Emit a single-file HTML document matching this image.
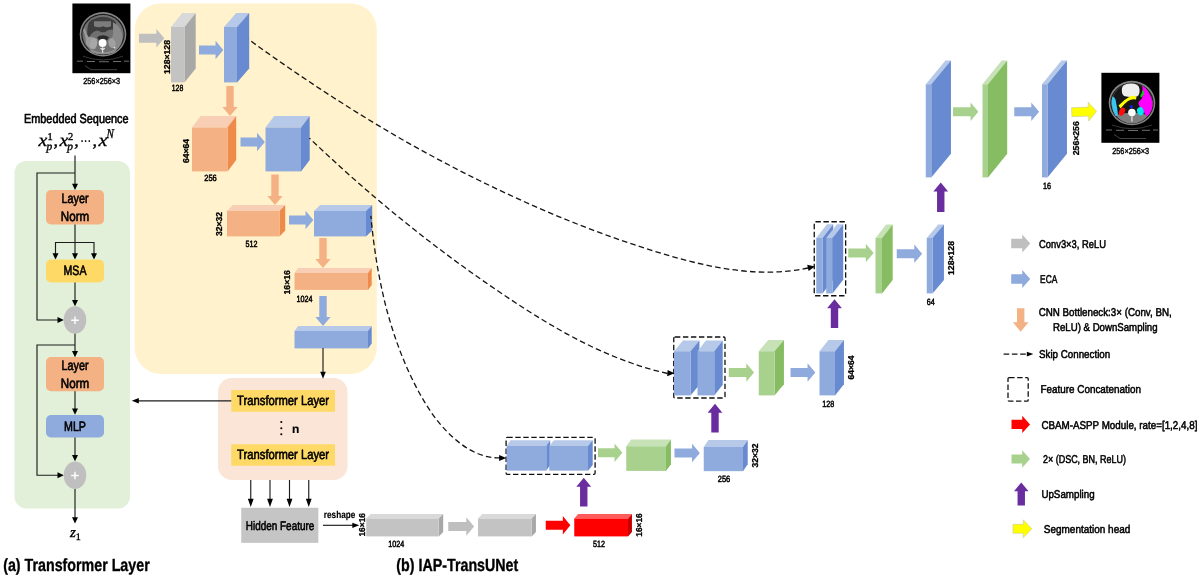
<!DOCTYPE html>
<html lang="en">
<head>
<meta charset="utf-8">
<title>IAP-TransUNet architecture</title>
<style>
html,body{margin:0;padding:0;background:#fff;}
body{width:1200px;height:578px;overflow:hidden;}
svg{display:block;will-change:transform;}
text{text-rendering:geometricPrecision;}
.s{font-family:"Liberation Sans",sans-serif;stroke:#000;stroke-linejoin:round;}
.m{font-family:"Liberation Serif",serif;font-style:italic;stroke:#000;stroke-width:0.35px;}
.mr{font-family:"Liberation Serif",serif;stroke:#000;stroke-width:0.35px;}
</style>
</head>
<body>
<svg width="1200" height="578" viewBox="0 0 1200 578">
<rect width="1200" height="578" fill="#fff"/>
<rect x="134.7" y="3.4" width="242.1" height="370.5" rx="26" ry="26" fill="#FFF2CC"/>
<rect x="14.5" y="161" width="115.5" height="347.5" rx="12" ry="12" fill="#E2F0D9"/>
<rect x="218" y="378" width="129.5" height="102" rx="14" ry="14" fill="#FBE5D6"/>
<defs><filter id="bl" x="-10%" y="-10%" width="120%" height="120%"><feGaussianBlur stdDeviation="0.55"/></filter><clipPath id="c1"><rect x="72.4" y="3.5" width="58" height="69.7"/></clipPath><clipPath id="c2"><rect x="1101.4" y="72.8" width="58" height="70"/></clipPath></defs>
<g>
<rect x="72.4" y="3.5" width="58" height="69.7" fill="#000"/>
<g clip-path="url(#c1)"><g filter="url(#bl)" transform="translate(103,34.2)">
<ellipse cx="0" cy="0" rx="23.3" ry="22.2" fill="#858585"/>
<ellipse cx="0" cy="0.2" rx="21.8" ry="20.6" fill="#1c1c1c"/>
<ellipse cx="0" cy="0.4" rx="20.6" ry="19.6" fill="#6f6f6f"/>
<path d="M-26,27 H-20 M-16,27.3 H-8 M-4,27.5 H6 M10,27.3 H18 M21,27 H26" stroke="#6e6e6e" stroke-width="1" fill="none"/>
<path d="M-18,31.5 L-12,35.5 H14" stroke="#4a4a4a" stroke-width="0.9" fill="none"/>
<path d="M-20,22 Q0,29.5 20,22" stroke="#3c3c3c" stroke-width="0.9" fill="none"/>
</g></g>
<g filter="url(#bl)" transform="translate(103,34.2)">
<path d="M-14,-12 Q-9,-17 0,-17.5 Q9,-17 13,-12 L12,-4 Q6,-6 2,-2 L-2,-2 Q-6,-6 -11,-1 L-15,4 Q-17,-4 -14,-12 Z" fill="#3d3d3d"/>
<path d="M-9,-13 H8 L8,-8 Q4,-6 0,-8 Q-4,-6 -9,-8 Z" fill="#7c7c7c"/>
<path d="M-20,-4 Q-17,2 -17,10 Q-13,16 -8,15 Q-5,10 -6,5 Q-10,2 -14,3 Q-17,0 -18,-6 Z" fill="#9c9c9c"/>
<path d="M10,-12 Q18,-8 19.5,2 Q19,12 13,16 Q9,12 7,6 Q11,2 10,-4 Z" fill="#8a8a8a"/>
<ellipse cx="-9.5" cy="9.5" rx="3.6" ry="5" fill="#a8a8a8" transform="rotate(20 -9.5 9.5)"/>
<ellipse cx="9" cy="9" rx="3.6" ry="5" fill="#a0a0a0" transform="rotate(-20 9 9)"/>
<path d="M-6,3 Q0,-1 6,3 L4,6 Q0,3 -4,6 Z" fill="#2a2a2a"/>
<path d="M-14,14 Q0,22 14,14 L12,18 Q0,22.5 -12,18 Z" fill="#8e8e8e"/>
<circle cx="-0.4" cy="8.8" r="3.9" fill="#fdfdfd"/>
<path d="M-0.4,13 V18.5 M-2.6,14 L-0.4,15.5 L1.8,14" stroke="#e6e6e6" stroke-width="1.3" fill="none"/>
<circle cx="11.5" cy="13.5" r="0.8" fill="#f0f0f0"/>
</g>
</g>
<text class="s" x="83.2" y="84.1" font-size="8.8" text-anchor="start" stroke-width="0.41" textLength="37" lengthAdjust="spacingAndGlyphs">256×256×3</text>
<polygon fill="#BFBFBF" points="139,33.8 156.35,33.8 156.35,29.1 164.35,38.3 156.35,47.5 156.35,42.8 139,42.8"/>
<polygon fill="#D9D9D9" points="171,27 184.5,27 195.7,13 182.2,13"/>
<polygon fill="#A8A8A8" points="184.5,27 195.7,13 195.7,68.4 184.5,82.4"/>
<rect fill="#C3C3C3" x="171" y="27" width="13.5" height="55.4"/>
<text class="s" transform="translate(167,57) rotate(-90)" x="-17" y="3.1" font-size="8.6" font-weight="bold" stroke-width="0.3" textLength="34" lengthAdjust="spacingAndGlyphs">128×128</text>
<text class="s" x="177.5" y="90.8" font-size="9" text-anchor="middle" stroke-width="0.4" textLength="11.5" lengthAdjust="spacingAndGlyphs" style="stroke-width:0.5px">128</text>
<polygon fill="#8FAADC" points="199,45.5 215.55,45.5 215.55,40.7 223.35,50 215.55,59.3 215.55,54.5 199,54.5"/>
<polygon fill="#B7C9E9" points="224,27 237,27 249.2,13 236.2,13"/>
<polygon fill="#678AD0" points="237,27 249.2,13 249.2,68.4 237,82.4"/>
<rect fill="#8FAADC" x="224" y="27" width="13" height="55.4"/>
<polygon fill="#F4B183" points="226.3,86 233.7,86 233.7,107.1 237.6,107.1 230,116.1 222.4,107.1 226.3,107.1"/>
<polygon fill="#F8CFB4" points="192,127.5 227.5,127.5 236.2,116 200.7,116"/>
<polygon fill="#EE8A4A" points="227.5,127.5 236.2,116 236.2,159.9 227.5,171.4"/>
<rect fill="#F4B183" x="192" y="127.5" width="35.5" height="43.9"/>
<text class="s" transform="translate(186,151) rotate(-90)" x="-12" y="3.1" font-size="8.6" font-weight="bold" stroke-width="0.3" textLength="24" lengthAdjust="spacingAndGlyphs">64×64</text>
<text class="s" x="210.5" y="181" font-size="9" text-anchor="middle" stroke-width="0.4" textLength="12.5" lengthAdjust="spacingAndGlyphs" style="stroke-width:0.5px">256</text>
<polygon fill="#8FAADC" points="240.5,137.5 257.05,137.5 257.05,132.7 264.85,142 257.05,151.3 257.05,146.5 240.5,146.5"/>
<polygon fill="#B7C9E9" points="265.5,127.5 301,127.5 309.7,116 274.2,116"/>
<polygon fill="#678AD0" points="301,127.5 309.7,116 309.7,159.9 301,171.4"/>
<rect fill="#8FAADC" x="265.5" y="127.5" width="35.5" height="43.9"/>
<polygon fill="#F4B183" points="271.3,174.5 278.7,174.5 278.7,196.1 282.6,196.1 275,205.1 267.4,196.1 271.3,196.1"/>
<polygon fill="#F8CFB4" points="227,211 279.5,211 285.2,205 232.7,205"/>
<polygon fill="#EE8A4A" points="279.5,211 285.2,205 285.2,230.4 279.5,236.4"/>
<rect fill="#F4B183" x="227" y="211" width="52.5" height="25.4"/>
<text class="s" transform="translate(219,224) rotate(-90)" x="-12" y="3.1" font-size="8.6" font-weight="bold" stroke-width="0.3" textLength="24" lengthAdjust="spacingAndGlyphs">32×32</text>
<text class="s" x="251.5" y="246.8" font-size="9" text-anchor="middle" stroke-width="0.4" textLength="12" lengthAdjust="spacingAndGlyphs" style="stroke-width:0.5px">512</text>
<polygon fill="#8FAADC" points="289,215.5 305.55,215.5 305.55,210.7 313.35,220 305.55,229.3 305.55,224.5 289,224.5"/>
<polygon fill="#B7C9E9" points="314,211 366,211 372.2,205 320.2,205"/>
<polygon fill="#678AD0" points="366,211 372.2,205 372.2,230.4 366,236.4"/>
<rect fill="#8FAADC" x="314" y="211" width="52" height="25.4"/>
<polygon fill="#F4B183" points="319.3,238 326.7,238 326.7,259.1 330.6,259.1 323,268.1 315.4,259.1 319.3,259.1"/>
<polygon fill="#F8CFB4" points="294.5,273 368,273 371.7,268 298.2,268"/>
<polygon fill="#EE8A4A" points="368,273 371.7,268 371.7,284.9 368,289.9"/>
<rect fill="#F4B183" x="294.5" y="273" width="73.5" height="16.9"/>
<text class="s" transform="translate(287,282.3) rotate(-90)" x="-12.25" y="3.1" font-size="8.6" font-weight="bold" stroke-width="0.3" textLength="24.5" lengthAdjust="spacingAndGlyphs">16×16</text>
<text class="s" x="304.5" y="302" font-size="9" text-anchor="middle" stroke-width="0.4" textLength="16" lengthAdjust="spacingAndGlyphs" style="stroke-width:0.5px">1024</text>
<polygon fill="#8FAADC" points="319.3,296 326.7,296 326.7,317.1 330.6,317.1 323,326.1 315.4,317.1 319.3,317.1"/>
<polygon fill="#B7C9E9" points="294.5,331 368,331 371.7,326 298.2,326"/>
<polygon fill="#678AD0" points="368,331 371.7,326 371.7,343.4 368,348.4"/>
<rect fill="#8FAADC" x="294.5" y="331" width="73.5" height="17.4"/>
<path d="M323,348 L323,373" fill="none" stroke="#1c1c1c" stroke-width="1.15"/>
<polygon fill="#000" points="323,378.8 320.2,371.8 325.8,371.8"/>
<rect x="231.25" y="390" width="103.75" height="21.75" fill="#FFD966"/>
<text class="s" x="237.1" y="405" font-size="13.5" text-anchor="start" stroke-width="0.63" textLength="92" lengthAdjust="spacingAndGlyphs">Transformer Layer</text>
<rect x="231.25" y="444.25" width="103.75" height="21.5" fill="#FFD966"/>
<text class="s" x="237.1" y="459.2" font-size="13.5" text-anchor="start" stroke-width="0.63" textLength="92" lengthAdjust="spacingAndGlyphs">Transformer Layer</text>
<circle cx="281.3" cy="422" r="1.05" fill="#000"/>
<circle cx="281.3" cy="428.2" r="1.05" fill="#000"/>
<circle cx="281.3" cy="434.3" r="1.05" fill="#000"/>
<text class="s" x="295.6" y="433.3" font-size="12" text-anchor="middle" font-weight="bold" stroke-width="0.15">n</text>
<path d="M231.25,400.8 L137,400.8" fill="none" stroke="#1c1c1c" stroke-width="1.15"/>
<polygon fill="#000" points="131.8,400.8 138.8,398.1 138.8,403.5"/>
<path d="M250.75,480 L250.75,500" fill="none" stroke="#1c1c1c" stroke-width="1.15"/>
<polygon fill="#000" points="250.75,507 247.85,498.8 253.65,498.8"/>
<path d="M270,480 L270,500" fill="none" stroke="#1c1c1c" stroke-width="1.15"/>
<polygon fill="#000" points="270,507 267.1,498.8 272.9,498.8"/>
<path d="M289.5,480 L289.5,500" fill="none" stroke="#1c1c1c" stroke-width="1.15"/>
<polygon fill="#000" points="289.5,507 286.6,498.8 292.4,498.8"/>
<path d="M308.75,480 L308.75,500" fill="none" stroke="#1c1c1c" stroke-width="1.15"/>
<polygon fill="#000" points="308.75,507 305.85,498.8 311.65,498.8"/>
<rect x="241.25" y="507.75" width="77.1" height="35.1" fill="#C5C5C5"/>
<text class="s" x="245.8" y="529.9" font-size="12.5" text-anchor="start" stroke-width="0.59" textLength="68.5" lengthAdjust="spacingAndGlyphs">Hidden Feature</text>
<text class="s" x="323.8" y="518.3" font-size="10" text-anchor="start" font-weight="bold" stroke-width="0.15" textLength="31.5" lengthAdjust="spacingAndGlyphs">reshape</text>
<path d="M323,525.3 L353,525.3" fill="none" stroke="#1c1c1c" stroke-width="1.15"/>
<polygon fill="#000" points="359.3,525.3 352.3,522.7 352.3,527.9"/>
<text class="s" transform="translate(362,524.8) rotate(-90)" x="-11.75" y="3.1" font-size="8.6" font-weight="bold" stroke-width="0.3" textLength="23.5" lengthAdjust="spacingAndGlyphs">16×16</text>
<polygon fill="#D9D9D9" points="366.25,518.5 438.75,518.5 443.2,514 370.7,514"/>
<polygon fill="#A8A8A8" points="438.75,518.5 443.2,514 443.2,531.9 438.75,536.4"/>
<rect fill="#C3C3C3" x="366.25" y="518.5" width="72.5" height="17.9"/>
<text class="s" x="396.3" y="547" font-size="9" text-anchor="middle" stroke-width="0.4" textLength="16" lengthAdjust="spacingAndGlyphs" style="stroke-width:0.5px">1024</text>
<polygon fill="#BFBFBF" points="448.25,522 466.3,522 466.3,517.2 474.1,526.5 466.3,535.8 466.3,531 448.25,531"/>
<polygon fill="#D9D9D9" points="478,518.5 531.75,518.5 535.95,514 482.2,514"/>
<polygon fill="#A8A8A8" points="531.75,518.5 535.95,514 535.95,531.9 531.75,536.4"/>
<rect fill="#C3C3C3" x="478" y="518.5" width="53.75" height="17.9"/>
<polygon fill="#FF0000" points="545.75,520.75 562.85,520.75 562.85,515.95 570.35,525.25 562.85,534.55 562.85,529.75 545.75,529.75"/>
<polygon fill="#FF5B5B" points="574.25,518.5 628,518.5 631.95,514 578.2,514"/>
<polygon fill="#C60000" points="628,518.5 631.95,514 631.95,531.9 628,536.4"/>
<rect fill="#FF0000" x="574.25" y="518.5" width="53.75" height="17.9"/>
<text class="s" transform="translate(638.8,525) rotate(-90)" x="-11.75" y="3.1" font-size="8.6" font-weight="bold" stroke-width="0.3" textLength="23.5" lengthAdjust="spacingAndGlyphs">16×16</text>
<text class="s" x="599" y="547" font-size="9" text-anchor="middle" stroke-width="0.4" textLength="12" lengthAdjust="spacingAndGlyphs" style="stroke-width:0.5px">512</text>
<polygon fill="#6A2DA0" points="580.05,506.5 587.45,506.5 587.45,486.75 591.15,486.75 583.75,477.75 576.35,486.75 580.05,486.75"/>
<rect x="506.1" y="437.4" width="89" height="36.9" fill="none" rx="1.2" ry="1.2" stroke="#111" stroke-width="1.3" stroke-dasharray="5.4 2.6"/>
<polygon fill="#B7C9E9" points="506.6,446 546.25,446 550.2,440.25 510.55,440.25"/>
<polygon fill="#678AD0" points="546.25,446 550.2,440.25 550.2,464.9 546.25,470.65"/>
<rect fill="#8FAADC" x="506.6" y="446" width="39.65" height="24.65"/>
<polygon fill="#B7C9E9" points="549.25,446 588,446 592.7,440.25 553.95,440.25"/>
<polygon fill="#678AD0" points="588,446 592.7,440.25 592.7,464.9 588,470.65"/>
<rect fill="#8FAADC" x="549.25" y="446" width="38.75" height="24.65"/>
<polygon fill="#A9D18E" points="598,448.25 614.55,448.25 614.55,443.45 622.35,452.75 614.55,462.05 614.55,457.25 598,457.25"/>
<polygon fill="#C7E2B6" points="626.25,446.25 666,446.25 670.95,439.5 631.2,439.5"/>
<polygon fill="#87BD62" points="666,446.25 670.95,439.5 670.95,464.15 666,470.9"/>
<rect fill="#A9D18E" x="626.25" y="446.25" width="39.75" height="24.65"/>
<polygon fill="#8FAADC" points="674.5,448.5 692.05,448.5 692.05,443.7 699.85,453 692.05,462.3 692.05,457.5 674.5,457.5"/>
<polygon fill="#B7C9E9" points="703.75,447 743,447 747.7,440 708.45,440"/>
<polygon fill="#678AD0" points="743,447 747.7,440 747.7,464.15 743,471.15"/>
<rect fill="#8FAADC" x="703.75" y="447" width="39.25" height="24.15"/>
<text class="s" transform="translate(755,455.5) rotate(-90)" x="-12" y="3.1" font-size="8.6" font-weight="bold" stroke-width="0.3" textLength="24" lengthAdjust="spacingAndGlyphs">32×32</text>
<text class="s" x="724" y="481.8" font-size="9" text-anchor="middle" stroke-width="0.4" textLength="12.5" lengthAdjust="spacingAndGlyphs" style="stroke-width:0.5px">256</text>
<polygon fill="#6A2DA0" points="711.3,432.5 718.7,432.5 718.7,412.75 722.4,412.75 715,403.75 707.6,412.75 711.3,412.75"/>
<rect x="673.75" y="337" width="51.25" height="61" fill="none" rx="1.2" ry="1.2" stroke="#111" stroke-width="1.3" stroke-dasharray="5.4 2.6"/>
<polygon fill="#B7C9E9" points="674,351.25 690.5,351.25 699.45,340.5 682.95,340.5"/>
<polygon fill="#678AD0" points="690.5,351.25 699.45,340.5 699.45,384.65 690.5,395.4"/>
<rect fill="#8FAADC" x="674" y="351.25" width="16.5" height="44.15"/>
<polygon fill="#B7C9E9" points="697.5,351.25 714.25,351.25 722.7,340.5 705.95,340.5"/>
<polygon fill="#678AD0" points="714.25,351.25 722.7,340.5 722.7,384.65 714.25,395.4"/>
<rect fill="#8FAADC" x="697.5" y="351.25" width="16.75" height="44.15"/>
<polygon fill="#A9D18E" points="728.75,368 746.3,368 746.3,363.2 754.1,372.5 746.3,381.8 746.3,377 728.75,377"/>
<polygon fill="#C7E2B6" points="758.75,351.25 774.5,351.25 783.95,340 768.2,340"/>
<polygon fill="#87BD62" points="774.5,351.25 783.95,340 783.95,384.15 774.5,395.4"/>
<rect fill="#A9D18E" x="758.75" y="351.25" width="15.75" height="44.15"/>
<polygon fill="#8FAADC" points="790.5,368 807.55,368 807.55,363.2 815.35,372.5 807.55,381.8 807.55,377 790.5,377"/>
<polygon fill="#B7C9E9" points="819.5,351.25 835,351.25 843.95,340 828.45,340"/>
<polygon fill="#678AD0" points="835,351.25 843.95,340 843.95,384.15 835,395.4"/>
<rect fill="#8FAADC" x="819.5" y="351.25" width="15.5" height="44.15"/>
<text class="s" transform="translate(851.25,367.5) rotate(-90)" x="-12" y="3.1" font-size="8.6" font-weight="bold" stroke-width="0.3" textLength="24" lengthAdjust="spacingAndGlyphs">64×64</text>
<text class="s" x="828.25" y="406.8" font-size="9" text-anchor="middle" stroke-width="0.4" textLength="12" lengthAdjust="spacingAndGlyphs" style="stroke-width:0.5px">128</text>
<polygon fill="#6A2DA0" points="830.8,328 838.2,328 838.2,308.25 841.9,308.25 834.5,299.25 827.1,308.25 830.8,308.25"/>
<rect x="814.25" y="221.75" width="31.4" height="74" fill="none" rx="1.2" ry="1.2" stroke="#111" stroke-width="1.3" stroke-dasharray="5.4 2.6"/>
<polygon fill="#B7C9E9" points="816.25,238 822.5,238 833.2,224.25 826.95,224.25"/>
<polygon fill="#678AD0" points="822.5,238 833.2,224.25 833.2,279.65 822.5,293.4"/>
<rect fill="#8FAADC" x="816.25" y="238" width="6.25" height="55.4"/>
<polygon fill="#B7C9E9" points="826.25,238 832.5,238 843.2,224.25 836.95,224.25"/>
<polygon fill="#678AD0" points="832.5,238 843.2,224.25 843.2,279.65 832.5,293.4"/>
<rect fill="#8FAADC" x="826.25" y="238" width="6.25" height="55.4"/>
<polygon fill="#A9D18E" points="848.25,248.5 865.8,248.5 865.8,243.7 873.6,253 865.8,262.3 865.8,257.5 848.25,257.5"/>
<polygon fill="#C7E2B6" points="875.5,238 882,238 892.7,224.5 886.2,224.5"/>
<polygon fill="#87BD62" points="882,238 892.7,224.5 892.7,279.9 882,293.4"/>
<rect fill="#A9D18E" x="875.5" y="238" width="6.5" height="55.4"/>
<polygon fill="#8FAADC" points="896.75,249.25 914.3,249.25 914.3,244.45 922.1,253.75 914.3,263.05 914.3,258.25 896.75,258.25"/>
<polygon fill="#B7C9E9" points="926.75,238 932.5,238 943.95,224.5 938.2,224.5"/>
<polygon fill="#678AD0" points="932.5,238 943.95,224.5 943.95,279.9 932.5,293.4"/>
<rect fill="#8FAADC" x="926.75" y="238" width="5.75" height="55.4"/>
<text class="s" transform="translate(950.75,258) rotate(-90)" x="-17" y="3.1" font-size="8.6" font-weight="bold" stroke-width="0.3" textLength="34" lengthAdjust="spacingAndGlyphs">128×128</text>
<text class="s" x="930.75" y="305" font-size="9" text-anchor="middle" stroke-width="0.4" textLength="8" lengthAdjust="spacingAndGlyphs" style="stroke-width:0.5px">64</text>
<polygon fill="#6A2DA0" points="937.05,212 944.45,212 944.45,191.5 948.15,191.5 940.75,182.5 933.35,191.5 937.05,191.5"/>
<polygon fill="#B7C9E9" points="925.75,84.25 931.25,84.25 950.95,60.5 945.45,60.5"/>
<polygon fill="#678AD0" points="931.25,84.25 950.95,60.5 950.95,153.65 931.25,177.4"/>
<rect fill="#8FAADC" x="925.75" y="84.25" width="5.5" height="93.15"/>
<polygon fill="#A9D18E" points="953,107.25 970.55,107.25 970.55,102.45 978.35,111.75 970.55,121.05 970.55,116.25 953,116.25"/>
<polygon fill="#C7E2B6" points="982.5,84.25 988,84.25 1007.2,60.5 1001.7,60.5"/>
<polygon fill="#87BD62" points="988,84.25 1007.2,60.5 1007.2,153.65 988,177.4"/>
<rect fill="#A9D18E" x="982.5" y="84.25" width="5.5" height="93.15"/>
<polygon fill="#8FAADC" points="1014.25,107.25 1031.3,107.25 1031.3,102.45 1039.1,111.75 1031.3,121.05 1031.3,116.25 1014.25,116.25"/>
<polygon fill="#B7C9E9" points="1042,84.25 1047.5,84.25 1066.95,60.5 1061.45,60.5"/>
<polygon fill="#678AD0" points="1047.5,84.25 1066.95,60.5 1066.95,153.65 1047.5,177.4"/>
<rect fill="#8FAADC" x="1042" y="84.25" width="5.5" height="93.15"/>
<text class="s" transform="translate(1076.25,138.25) rotate(-90)" x="-17" y="3.1" font-size="8.6" font-weight="bold" stroke-width="0.3" textLength="34" lengthAdjust="spacingAndGlyphs">256×256</text>
<text class="s" x="1046.9" y="188.9" font-size="9" text-anchor="middle" stroke-width="0.4" textLength="8" lengthAdjust="spacingAndGlyphs" style="stroke-width:0.5px">16</text>
<g transform="rotate(-2 1084 112)">
<polygon fill="#FFFF00" stroke="#c9c9a0" stroke-width="0.6" points="1071.75,107.25 1088.55,107.25 1088.55,102.45 1096.55,111.75 1088.55,121.05 1088.55,116.25 1071.75,116.25"/>
</g>
<g>
<rect x="1101.4" y="72.8" width="58" height="70" fill="#000"/>
<g clip-path="url(#c2)"><g filter="url(#bl)" transform="translate(1132,103)">
<ellipse cx="0" cy="0" rx="23.3" ry="22.2" fill="#858585"/>
<ellipse cx="0" cy="0.2" rx="21.8" ry="20.6" fill="#1c1c1c"/>
<ellipse cx="0" cy="0.4" rx="20.6" ry="19.6" fill="#6f6f6f"/>
<path d="M-26,27 H-20 M-16,27.3 H-8 M-4,27.5 H6 M10,27.3 H18 M21,27 H26" stroke="#6e6e6e" stroke-width="1" fill="none"/>
<path d="M-18,31.5 L-12,35.5 H14" stroke="#4a4a4a" stroke-width="0.9" fill="none"/>
<path d="M-20,22 Q0,29.5 20,22" stroke="#3c3c3c" stroke-width="0.9" fill="none"/>
</g></g>
<g filter="url(#bl)" transform="translate(1132,103)">
<ellipse cx="0" cy="-1" rx="19.8" ry="18" fill="#161616"/>
<path d="M-16,12 Q0,7 16,12 Q10,20.5 0,20.5 Q-10,20.5 -16,12 Z" fill="#7d7d7d"/>
<path d="M-10,-15 Q-9,-19.5 -1,-19.5 Q7,-19.5 7.5,-14 Q8,-8 5,-6.5 Q-2,-5.5 -8,-7 Q-11,-10 -10,-15 Z" fill="#efefef"/>
<path d="M10.5,-17.5 Q18,-12 20.5,-1 Q21.5,8 14.5,13.5 Q11.5,8 8.5,4.5 Q5.5,1.5 7,-1.5 Q11.5,-5 10.5,-10 Z" fill="#FF00FF"/>
<path d="M10.3,-12.5 L12,-11.5 Q12,-7.5 9.3,-5.5 L8.2,-7 Q10.3,-9.5 10.3,-12.5 Z" fill="#00E000"/>
<path d="M-13.5,2.5 Q-8,-3.5 -2,-6.5 Q2,-8 4.5,-6 L4,-3.5 Q0,-4.5 -4,-2 Q-8,1 -11.5,5.5 Z" fill="#FFFF00"/>
<path d="M-19.5,-6.5 Q-16.5,-6 -16,-1 Q-14.5,6 -14,12.5 L-16.5,13 Q-19.5,8 -20.3,1 Q-20.6,-3.5 -19.5,-6.5 Z" fill="#38C6F4"/>
<ellipse cx="-10" cy="8.6" rx="2.8" ry="4.3" fill="#FF0A0A" transform="rotate(25 -10 8.6)"/>
<ellipse cx="8.4" cy="8.2" rx="3.3" ry="4.2" fill="#00E8F0" transform="rotate(-15 8.4 8.2)"/>
<circle cx="-0.7" cy="3.6" r="1.6" fill="#1414F0"/>
<circle cx="-0.1" cy="9.6" r="3.8" fill="#fbfbfb"/>
<path d="M-0.1,13.5 V18.5" stroke="#e0e0e0" stroke-width="1.3" fill="none"/>
</g>
</g>
<text class="s" x="1112.2" y="153.8" font-size="8.8" text-anchor="start" stroke-width="0.41" textLength="37" lengthAdjust="spacingAndGlyphs">256×256×3</text>
<path d="M808.1,268.0 C791.0,271.6 773.9,272.7 756.9,271.9 C739.9,271.2 723.0,268.7 706.3,265.1 C689.6,261.6 673.0,256.9 656.5,251.9 C640.1,246.8 623.9,241.4 607.8,235.6 C591.7,229.8 575.7,223.6 559.9,217.1 C544.1,210.6 528.5,203.7 513.0,196.5 C497.4,189.4 482.0,181.9 466.7,174.2 C451.5,166.5 436.3,158.5 421.3,150.2 C406.3,142.0 391.5,133.4 376.8,124.6 C362.2,115.8 347.6,106.7 333.3,97.5 C318.9,88.2 304.6,78.7 290.5,69.0 C276.4,59.3 262.4,49.5 248.6,39.4" fill="none" stroke="#151515" stroke-width="1.3" stroke-dasharray="5.6 3.2"/>
<path d="M667.5,373.5 C655.6,370.8 644.0,367.5 632.7,363.5 C621.3,359.6 610.2,355.1 599.3,350.2 C588.4,345.2 577.7,339.8 567.2,334.1 C556.7,328.3 546.3,322.2 536.1,315.9 C525.8,309.5 515.7,302.9 505.7,296.2 C495.7,289.5 485.8,282.7 476.0,275.8 C466.2,268.8 456.4,261.8 446.8,254.6 C437.2,247.4 427.6,240.1 418.2,232.7 C408.7,225.2 399.4,217.7 390.1,210.0 C380.9,202.4 371.7,194.6 362.7,186.7 C353.6,178.9 344.6,170.9 335.8,162.7 C326.9,154.6 318.1,146.4 309.4,138.1" fill="none" stroke="#151515" stroke-width="1.3" stroke-dasharray="5.6 3.2"/>
<path d="M500.2,457.9 C491.5,458.1 483.5,456.2 476.1,452.9 C468.7,449.7 462.0,445.1 455.8,439.8 C449.6,434.5 444.0,428.7 438.8,422.4 C433.7,416.1 429.0,409.3 424.8,402.3 C420.5,395.3 416.6,388.1 413.0,380.7 C409.4,373.4 406.0,365.9 403.0,358.4 C399.9,350.8 397.1,343.2 394.5,335.5 C391.9,327.8 389.6,320.0 387.4,312.2 C385.3,304.4 383.4,296.5 381.7,288.5 C380.0,280.6 378.4,272.6 377.1,264.5 C375.7,256.5 374.6,248.4 373.5,240.3 C372.5,232.2 371.6,224.1 370.9,215.9" fill="none" stroke="#151515" stroke-width="1.3" stroke-dasharray="5.6 3.2"/>
<polygon fill="#000" points="814.9,266.6 807.2,264.7 808.6,271.1"/>
<polygon fill="#000" points="674.5,373.3 667.2,376.2 667.6,370.1"/>
<polygon fill="#000" points="506.3,458.1 499.1,455.1 499.1,461.1"/>
<text class="s" x="24" y="122.8" font-size="13.1" text-anchor="start" stroke-width="0.62" textLength="104.5" lengthAdjust="spacingAndGlyphs">Embedded Sequence</text>
<text class="m" x="38.6" y="145.6" font-size="18.2" textLength="8.8" lengthAdjust="spacingAndGlyphs">x</text>
<text class="mr" x="47.4" y="139.5" font-size="10.5">1</text>
<text class="m" x="46.4" y="149.6" font-size="11.5">p</text>
<text class="m" x="53.6" y="145.9" font-size="18">,</text>
<text class="m" x="59.6" y="145.6" font-size="18.2" textLength="8.8" lengthAdjust="spacingAndGlyphs">x</text>
<text class="mr" x="67.9" y="139.5" font-size="10.5">2</text>
<text class="m" x="67.2" y="149.6" font-size="11.5">p</text>
<text class="m" x="74.2" y="145.9" font-size="18">,</text>
<text class="mr" x="80.2" y="145.8" font-size="15" textLength="11" lengthAdjust="spacingAndGlyphs">···</text>
<text class="m" x="92.4" y="145.9" font-size="18">,</text>
<text class="m" x="98.4" y="145.6" font-size="18.2" textLength="8.8" lengthAdjust="spacingAndGlyphs">x</text>
<text class="m" x="106.6" y="137.7" font-size="13.3" textLength="7.4" lengthAdjust="spacingAndGlyphs">N</text>
<path d="M75,155.5 L75,184" fill="none" stroke="#1c1c1c" stroke-width="1.15"/>
<polygon fill="#000" points="75,190 72,183.7 78,183.7"/>
<path d="M75,173 L37,173 L37,320 L58,320" fill="none" stroke="#1c1c1c" stroke-width="1.15"/>
<polygon fill="#000" points="63.8,320 57.5,317 57.5,323"/>
<rect x="46" y="190" width="58" height="34.5" rx="5" ry="5" fill="#F4B183"/>
<text class="s" x="75" y="203.3" font-size="13.6" text-anchor="middle" stroke-width="0.64" textLength="27" lengthAdjust="spacingAndGlyphs">Layer</text>
<text class="s" x="75" y="220.7" font-size="13.6" text-anchor="middle" stroke-width="0.64" textLength="28.4" lengthAdjust="spacingAndGlyphs">Norm</text>
<path d="M75,224.5 L75,254" fill="none" stroke="#1c1c1c" stroke-width="1.15"/>
<polygon fill="#000" points="75,259.6 72,253.3 78,253.3"/>
<path d="M55.5,254 L55.5,242.5 L94,242.5 L94,254" fill="none" stroke="#1c1c1c" stroke-width="1.15"/>
<polygon fill="#000" points="55.5,259.6 52.5,253.3 58.5,253.3"/>
<polygon fill="#000" points="94,259.6 91,253.3 97,253.3"/>
<rect x="46" y="259.5" width="58" height="23" rx="5" ry="5" fill="#FFD966"/>
<text class="s" x="75" y="275.4" font-size="13.6" text-anchor="middle" stroke-width="0.64" textLength="23" lengthAdjust="spacingAndGlyphs">MSA</text>
<path d="M75,282.5 L75,300.5" fill="none" stroke="#1c1c1c" stroke-width="1.15"/>
<polygon fill="#000" points="75,306.3 72,300 78,300"/>
<ellipse cx="75" cy="320" rx="11.3" ry="13.7" fill="#BFBFBF"/>
<path d="M71.2,320.3 H78.8 M75,316.5 V324.1" stroke="#fff" stroke-width="1.4" fill="none"/>
<path d="M75,333.7 L75,351.5" fill="none" stroke="#1c1c1c" stroke-width="1.15"/>
<polygon fill="#000" points="75,357.2 72,350.9 78,350.9"/>
<path d="M75,345 L37,345 L37,475.2 L58,475.2" fill="none" stroke="#1c1c1c" stroke-width="1.15"/>
<polygon fill="#000" points="63.8,475.2 57.5,472.2 57.5,478.2"/>
<rect x="46" y="357" width="58" height="34.3" rx="5" ry="5" fill="#F4B183"/>
<text class="s" x="75" y="370.3" font-size="13.6" text-anchor="middle" stroke-width="0.64" textLength="27" lengthAdjust="spacingAndGlyphs">Layer</text>
<text class="s" x="75" y="387.7" font-size="13.6" text-anchor="middle" stroke-width="0.64" textLength="28.4" lengthAdjust="spacingAndGlyphs">Norm</text>
<path d="M75,391.3 L75,409" fill="none" stroke="#1c1c1c" stroke-width="1.15"/>
<polygon fill="#000" points="75,414.8 72,408.5 78,408.5"/>
<rect x="46" y="415" width="58" height="22.5" rx="5" ry="5" fill="#8FAADC"/>
<text class="s" x="75" y="431" font-size="13.6" text-anchor="middle" stroke-width="0.64" textLength="22" lengthAdjust="spacingAndGlyphs">MLP</text>
<path d="M75,437.5 L75,455.5" fill="none" stroke="#1c1c1c" stroke-width="1.15"/>
<polygon fill="#000" points="75,461.3 72,455 78,455"/>
<ellipse cx="75" cy="475.2" rx="11.3" ry="13.7" fill="#BFBFBF"/>
<path d="M71.2,475.5 H78.8 M75,471.7 V479.3" stroke="#fff" stroke-width="1.4" fill="none"/>
<path d="M75,489 L75,518" fill="none" stroke="#1c1c1c" stroke-width="1.15"/>
<polygon fill="#000" points="75,523.6 72,517.3 78,517.3"/>
<text class="m" x="70" y="536.5" font-size="15">z<tspan dy="3.5" font-size="10" font-style="normal">1</tspan></text>
<text class="s" x="3.2" y="570.8" font-size="17.6" text-anchor="start" font-weight="bold" stroke-width="0.15" textLength="146.5" lengthAdjust="spacingAndGlyphs" style="stroke-width:0.35px">(a) Transformer Layer</text>
<text class="s" x="396.3" y="570.8" font-size="17.6" text-anchor="start" font-weight="bold" stroke-width="0.15" textLength="122" lengthAdjust="spacingAndGlyphs" style="stroke-width:0.35px">(b) IAP-TransUNet</text>
<polygon fill="#BFBFBF" points="1011.2,238.8 1022.25,238.8 1022.25,234.5 1030.25,243.5 1022.25,252.5 1022.25,248.2 1011.2,248.2"/>
<text class="s" x="1039" y="248.4" font-size="11.3" text-anchor="start" stroke-width="0.53" textLength="67" lengthAdjust="spacingAndGlyphs">Conv3×3, ReLU</text>
<polygon fill="#8FAADC" points="1011.2,274.3 1022.25,274.3 1022.25,270 1030.25,279 1022.25,288 1022.25,283.7 1011.2,283.7"/>
<text class="s" x="1040.1" y="283.3" font-size="11.3" text-anchor="start" stroke-width="0.53" textLength="17.3" lengthAdjust="spacingAndGlyphs">ECA</text>
<polygon fill="#F4B183" points="1017,308.25 1024.4,308.25 1024.4,322.2 1028.5,322.2 1020.7,331.8 1012.9,322.2 1017,322.2"/>
<text class="s" x="1038.7" y="315.6" font-size="11.3" text-anchor="start" stroke-width="0.53" textLength="133" lengthAdjust="spacingAndGlyphs">CNN Bottleneck:3× (Conv, BN,</text>
<text class="s" x="1053" y="331.2" font-size="11.3" text-anchor="start" stroke-width="0.53" textLength="104.5" lengthAdjust="spacingAndGlyphs">ReLU) &amp; DownSampling</text>
<path d="M1003.6,354.1 H1027" fill="none" stroke="#111" stroke-width="1.3" stroke-dasharray="5.6 2.7"/>
<polygon fill="#000" points="1033.4,354.1 1026.8,351.8 1026.8,356.4"/>
<text class="s" x="1039" y="358.3" font-size="11.3" text-anchor="start" stroke-width="0.53" textLength="71.2" lengthAdjust="spacingAndGlyphs">Skip Connection</text>
<rect x="1008" y="377.6" width="20.2" height="23.6" fill="none" rx="1.2" ry="1.2" stroke="#111" stroke-width="1.3" stroke-dasharray="5.4 2.6"/>
<text class="s" x="1040.5" y="392.6" font-size="11.3" text-anchor="start" stroke-width="0.53" textLength="100.5" lengthAdjust="spacingAndGlyphs">Feature Concatenation</text>
<polygon fill="#FF0000" points="1011.5,419.8 1022.25,419.8 1022.25,415.7 1030.05,424.4 1022.25,433.1 1022.25,429 1011.5,429"/>
<text class="s" x="1041.4" y="429" font-size="11.3" text-anchor="start" stroke-width="0.53" textLength="156" lengthAdjust="spacingAndGlyphs">CBAM-ASPP Module, rate=[1,2,4,8]</text>
<polygon fill="#A9D18E" points="1011.5,454.4 1022.25,454.4 1022.25,450.3 1030.05,459 1022.25,467.7 1022.25,463.6 1011.5,463.6"/>
<text class="s" x="1042.9" y="463.3" font-size="11.3" text-anchor="start" stroke-width="0.53" textLength="83.2" lengthAdjust="spacingAndGlyphs">2× (DSC, BN, ReLU)</text>
<polygon fill="#6A2DA0" points="1017.55,505.4 1024.95,505.4 1024.95,491.2 1028.55,491.2 1021.25,482.6 1013.95,491.2 1017.55,491.2"/>
<text class="s" x="1041.4" y="497.7" font-size="11.3" text-anchor="start" stroke-width="0.53" textLength="53.2" lengthAdjust="spacingAndGlyphs">UpSampling</text>
<polygon fill="#FFFF00" stroke="#c9c9a0" stroke-width="0.6" points="1013,524.3 1023.25,524.3 1023.25,519.8 1031.85,528.8 1023.25,537.8 1023.25,533.3 1013,533.3"/>
<text class="s" x="1043.8" y="532.9" font-size="11.3" text-anchor="start" stroke-width="0.53" textLength="86.5" lengthAdjust="spacingAndGlyphs">Segmentation head</text>
</svg>
</body>
</html>
